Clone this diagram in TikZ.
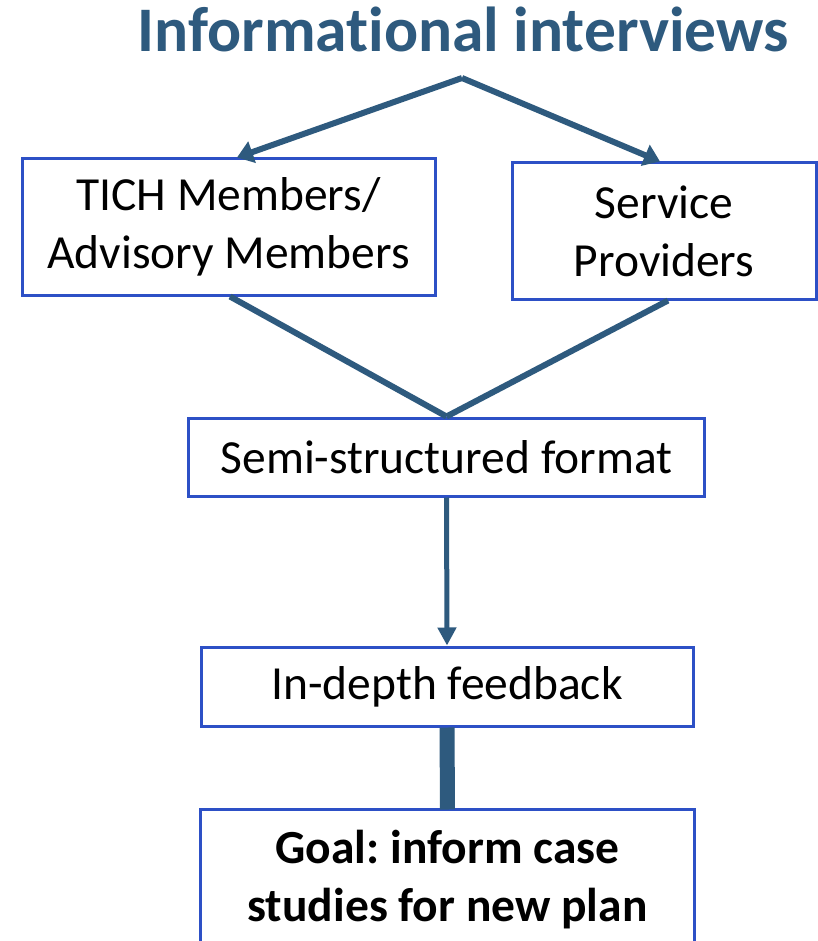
\documentclass[tikz,border=0pt]{standalone}
\usepackage{fontspec}
\setmainfont[Ligatures={NoCommon}]{Carlito}
\usetikzlibrary{arrows.meta,positioning}
\definecolor{titleblue}{HTML}{2E5A7E}
\definecolor{boxblue}{HTML}{2D50C6}
\tikzset{
  boxline/.style={draw=boxblue, line width=3pt},
  box/.style={boxline, fill=white, align=center, inner sep=0pt, font=\frenchspacing\fontsize{47.5}{58}\selectfont},
  conn/.style={draw=titleblue, line width=6pt},
  arr/.style={conn, -{Triangle[width=22pt,length=16pt]}},
}
\begin{document}
\begin{tikzpicture}[x=1pt,y=-1pt]
\useasboundingbox (0,0) rectangle (818,941);
\clip (0,0) rectangle (818,941);
\fill[white] (0,0) rectangle (818,941);
\node[anchor=base, text=titleblue, font=\fontsize{63.5}{70}\selectfont\bfseries] (title) at (463,52) {Informational interviews};
\coordinate (apex) at (462,78);
\node[box, minimum width=413pt, minimum height=136pt] (tich) at (228.5,227) {TICH Members/\\Advisory Members};
\node[box, minimum width=304pt, minimum height=136pt] (serv) at (664,231) {Service\\Providers};
\node[box, minimum width=516pt, minimum height=78pt] (semi) at (446.5,457) {Semi-structured format};
\node[box, minimum width=492pt, minimum height=79pt] (deep) at (447,686.5) {In-depth feedback};
\node[box, draw=none, fill=none, minimum width=491pt, minimum height=138pt, font=\frenchspacing\fontsize{47.5}{58}\selectfont\bfseries] (goal) at (447.5,880) {Goal: inform case\\studies for new plan};
\draw[boxline] (goal.west |- 0,980) -- (goal.north west) -- (goal.north east) -- (goal.east |- 0,980);
\draw[arr] (apex) -- ([xshift=8.5pt]tich.north);
\draw[arr] (apex) -- ([xshift=-4pt]serv.north);
\draw[conn] ([xshift=1.5pt]tich.south) -- (semi.north);
\draw[conn] ([xshift=4pt]serv.south) -- (semi.north);
\draw[conn, line width=5pt, -{Triangle[width=18pt,length=18pt]}] (semi.south) -- (deep.north);
\draw[conn, line width=15pt] (deep.south) -- (goal.north);
\end{tikzpicture}
\end{document}
